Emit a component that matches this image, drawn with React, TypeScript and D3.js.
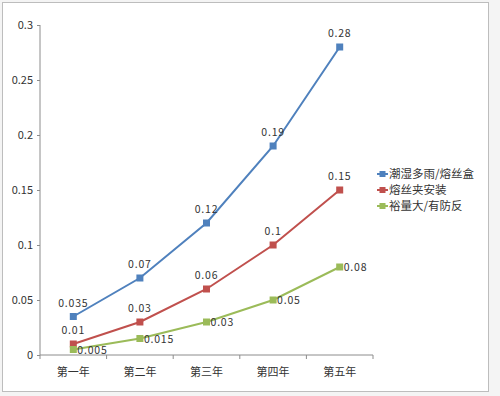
import React, { useEffect, useRef } from 'react';
import * as d3 from 'd3';

const years = ['第一年', '第二年', '第三年', '第四年', '第五年'];
const seriesNames = ['潮湿多雨/熔丝盒', '熔丝夹安装', '裕量大/有防反'];
const humidValues = [0.035, 0.07, 0.12, 0.19, 0.28];
const clipValues = [0.01, 0.03, 0.06, 0.1, 0.15];
const marginValues = [0.005, 0.015, 0.03, 0.05, 0.08];
const yTicks = [0, 0.05, 0.1, 0.15, 0.2, 0.25, 0.3];
const colors = ['#4f81bd', '#c0504d', '#9bbb59'];

const App: React.FC = () => {
  const ref = useRef<SVGSVGElement | null>(null);

  useEffect(() => {
    if (!ref.current) return;
    const svg = d3.select(ref.current);
    svg.selectAll('*').remove();

    const width = 500;
    const height = 396;
    const font = '"Noto Sans CJK SC", "DejaVu Sans", sans-serif';

    // outer frame
    svg.append('rect').attr('width', width).attr('height', height).attr('fill', '#f4f4f4');
    svg
      .append('rect')
      .attr('x', 2.5)
      .attr('y', 2.5)
      .attr('width', 486)
      .attr('height', 389)
      .attr('fill', '#fff')
      .attr('stroke', '#bdbdbd');

    const x = d3.scaleBand<string>().domain(years).range([40, 373]);
    const y = d3.scaleLinear().domain([0, 0.3]).range([355, 25]);

    // y axis
    const yAxis = svg
      .append('g')
      .attr('transform', 'translate(40,0)')
      .call(
        d3
          .axisLeft(y)
          .tickValues(yTicks)
          .tickSize(3)
          .tickPadding(4)
          .tickFormat((d) => String(+d))
      );
    yAxis.selectAll('path, line').attr('stroke', '#8c8c8c');
    yAxis.select('.domain').attr('d', `M0,${y(0.3)}V${y(0)}`);
    yAxis.selectAll('text').attr('fill', '#333').style('font', `11px ${font}`);

    // x axis
    const xAxis = svg.append('g').attr('transform', `translate(0,${y(0)})`);
    xAxis
      .append('line')
      .attr('x1', 40)
      .attr('x2', 373)
      .attr('stroke', '#8c8c8c');
    xAxis
      .selectAll('line.tick')
      .data(years.concat(['end']))
      .join('line')
      .attr('class', 'tick')
      .attr('x1', (d, i) => (i < years.length ? (x(d) as number) : 373))
      .attr('x2', (d, i) => (i < years.length ? (x(d) as number) : 373))
      .attr('y1', 0)
      .attr('y2', 4)
      .attr('stroke', '#8c8c8c');
    xAxis
      .selectAll('text')
      .data(years)
      .join('text')
      .attr('x', (d) => (x(d) as number) + x.bandwidth() / 2)
      .attr('y', 21)
      .attr('text-anchor', 'middle')
      .attr('fill', '#333')
      .style('font', `11px ${font}`)
      .text((d) => d);

    const cx = (i: number) => (x(years[i]) as number) + x.bandwidth() / 2;
    const line = d3
      .line<number>()
      .x((d, i) => cx(i))
      .y((d) => y(d));

    const all = [humidValues, clipValues, marginValues];
    all.forEach((vals, s) => {
      const g = svg.append('g');
      g.append('path')
        .datum(vals)
        .attr('d', line)
        .attr('fill', 'none')
        .attr('stroke', colors[s])
        .attr('stroke-width', 2);
      g.selectAll('rect')
        .data(vals)
        .join('rect')
        .attr('x', (d, i) => cx(i) - 3.5)
        .attr('y', (d) => y(d) - 3.5)
        .attr('width', 7)
        .attr('height', 7)
        .attr('fill', colors[s]);
      g.selectAll('text')
        .data(vals)
        .join('text')
        .attr('x', (d, i) => (s === 2 ? cx(i) + 4 : cx(i)))
        .attr('y', (d) => (s === 2 ? y(d) + 4 : y(d) - 10))
        .attr('text-anchor', s === 2 ? 'start' : 'middle')
        .attr('fill', '#333')
        .attr('letter-spacing', 0.8)
        .style('font', `10.5px ${font}`)
        .text((d) => String(d));
    });

    // legend
    const legend = svg.append('g').attr('transform', 'translate(377,174)');
    seriesNames.forEach((name, s) => {
      const row = legend.append('g').attr('transform', `translate(0,${s * 16})`);
      row.append('line').attr('x1', 0).attr('x2', 11).attr('stroke', colors[s]).attr('stroke-width', 2);
      row.append('rect').attr('x', 2.5).attr('y', -3).attr('width', 6).attr('height', 6).attr('fill', colors[s]);
      row
        .append('text')
        .attr('x', 12)
        .attr('y', 4)
        .attr('fill', '#333')
        .style('font', `11.5px ${font}`)
        .text(name);
    });
  }, []);

  return (
    <svg
      ref={ref}
      width={500}
      height={396}
      style={{ position: 'absolute', left: 0, top: 0, display: 'block' }}
    />
  );
};

export default App;
